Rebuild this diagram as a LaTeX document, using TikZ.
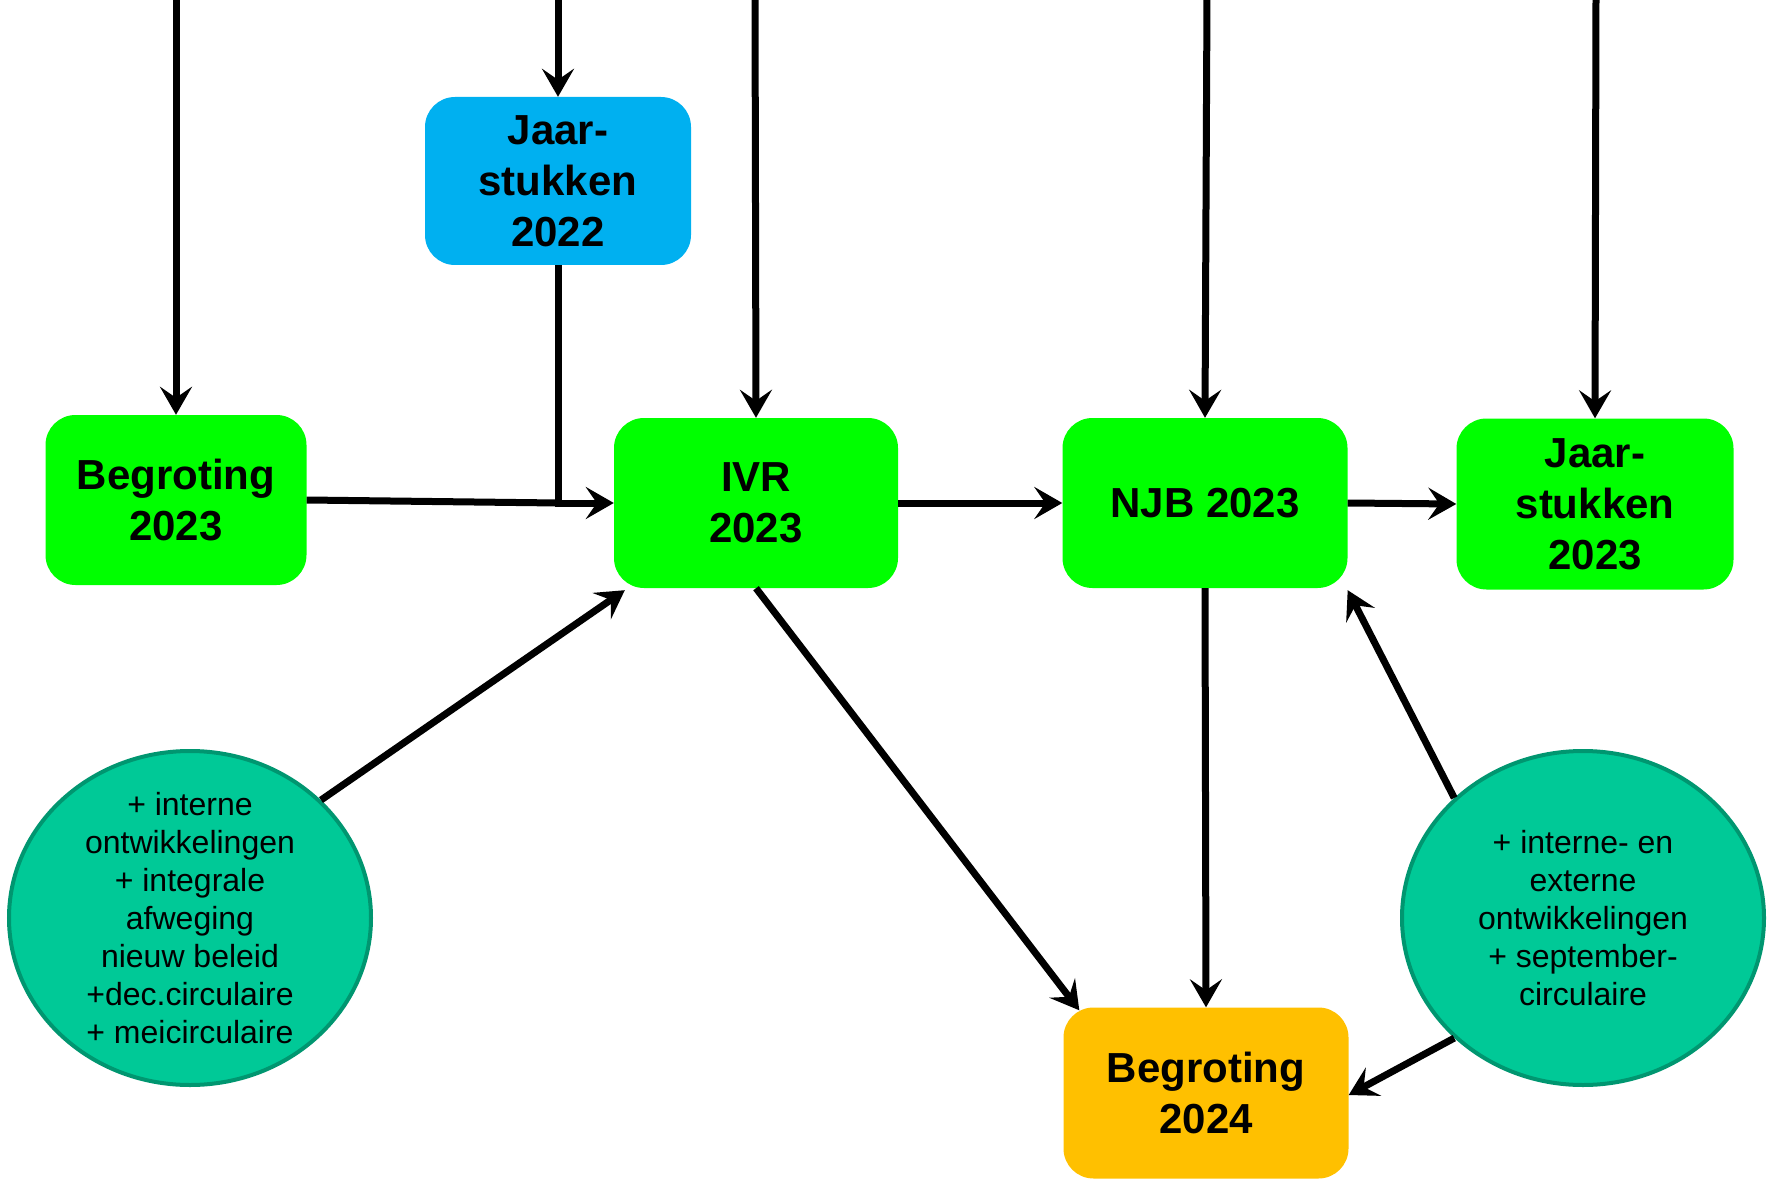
\documentclass[tikz,border=0pt]{standalone}
\usepackage{fontspec}
\setmainfont{Liberation Sans}
\usetikzlibrary{arrows.meta,shapes.geometric}
\definecolor{boxgreen}{HTML}{00FF00}
\definecolor{boxblue}{HTML}{00B0F0}
\definecolor{boxorange}{HTML}{FFC000}
\definecolor{ellfill}{HTML}{00C997}
\definecolor{elldraw}{HTML}{009670}
\tikzset{
  box/.style={rectangle, rounded corners=30pt, inner sep=0pt, align=center,
    font=\fontsize{42}{51}\selectfont\bfseries, text=black},
  ell/.style={ellipse, fill=ellfill, draw=elldraw, line width=4pt, inner sep=0pt,
    minimum width=362pt, minimum height=334pt},
  elltext/.style={align=center, inner sep=0pt, font=\fontsize{32}{38}\selectfont, text=black},
  conn/.style={line width=7pt, draw=black,
    -{Stealth[length=28pt, width=32pt, inset=11pt]}},
  plain/.style={line width=7pt, draw=black}
}
\begin{document}
\begin{tikzpicture}[x=1pt, y=-1pt]
\useasboundingbox (0,0) rectangle (1767,1182);
% boxes
\node[box, fill=boxgreen, minimum width=261pt, minimum height=170pt] (b23) at (176,500) {Begroting\\2023};
\node[box, fill=boxblue, minimum width=266pt, minimum height=168pt] (j22) at (558,181) {Jaar-\\stukken\\2022};
\node[box, fill=boxgreen, minimum width=284pt, minimum height=170pt] (ivr) at (756,503) {IVR\\2023};
\node[box, fill=boxgreen, minimum width=285pt, minimum height=170pt] (njb) at (1205,503) {NJB 2023};
\node[box, fill=boxgreen, minimum width=277pt, minimum height=171pt] (j23) at (1595,504) {Jaar-\\stukken\\2023};
\node[box, fill=boxorange, minimum width=285pt, minimum height=171pt] (b24) at (1206,1093) {Begroting\\2024};
% ellipses
\node[ell] (le) at (190,918) {};
\node[elltext] (let) at (le.center)
  {+ interne\\ontwikkelingen\\+ integrale\\afweging\\nieuw beleid\\+dec.circulaire\\+ meicirculaire};
\node[ell] (re) at (1583,918) {};
\node[elltext] (ret) at (re.center)
  {+ interne- en\\externe\\ontwikkelingen\\+ september-\\circulaire};
% top coordinates
\coordinate (t1) at (176,-5);
\coordinate (t2) at (558,-5);
\coordinate (t3) at (755,-5);
\coordinate (t4) at (1207,-5);
\coordinate (t5) at (1596,-5);
\draw[conn] (t1) -- (b23.north);
\draw[conn] (t2) -- (j22.north);
\draw[conn] (t3) -- (ivr.north);
\draw[conn] (t4) -- (njb.north);
\draw[conn] (t5) -- (j23.north);
% junction
\coordinate (jn) at (j22.south |- ivr.west);
\draw[plain] (b23.east) -- (jn);
\draw[conn, line join=miter] (j22.south) -- (jn) -- (ivr.west);
\draw[conn] (ivr.east) -- (njb.west);
\draw[conn] (njb.east) -- (j23.west);
\draw[conn] (ivr.south) -- ([xshift=16pt,yshift=-3pt]b24.north west);
\draw[conn] (njb.south) -- (b24.north);
\draw[conn] (le.42) -- ([xshift=11pt,yshift=-2pt]ivr.south west);
\draw[conn] (re.137) -- ([yshift=-2pt]njb.south east);
\draw[conn] (re.223) -- ([yshift=-2pt]b24.east);
\end{tikzpicture}
\end{document}
